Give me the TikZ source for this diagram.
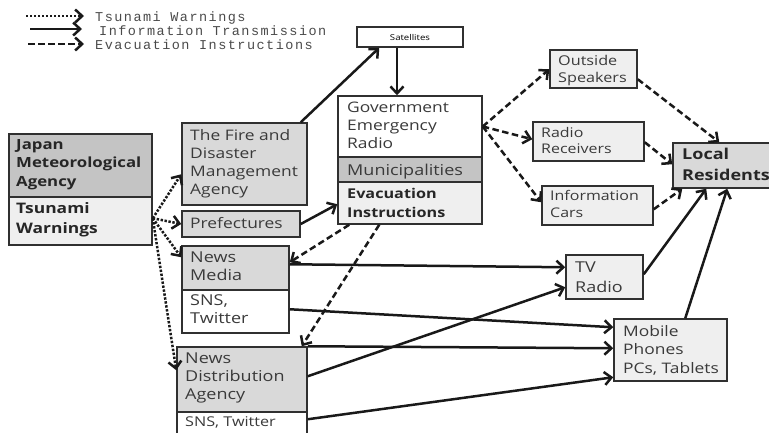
\documentclass[tikz,border=0pt]{standalone}
\usepackage{fontspec}
\setmainfont{Open Sans}[FakeStretch=1.2]
\newfontfamily\legfont{Liberation Mono}[LetterSpace=11]
\usetikzlibrary{arrows.meta,fit}
\definecolor{bord}{HTML}{303030}
\definecolor{txtc}{HTML}{3A3A3A}
\definecolor{dgray}{HTML}{C4C4C4}
\definecolor{mgray}{HTML}{D9D9D9}
\definecolor{lgray}{HTML}{EFEFEF}
\definecolor{leg}{HTML}{4A4A4A}
\newcommand{\st}{\rule{0pt}{12pt}}
\newcommand{\fs}[2]{\fontsize{#1}{#2}\selectfont}
\begin{document}
\begin{tikzpicture}[x=1pt,y=-1pt,
  box/.style={draw=bord, line width=1.5pt, inner sep=0pt},
  lbl/.style={anchor=north west, inner sep=0pt, align=left, text=txtc, font=\fs{14.5}{18.5}},
  blbl/.style={lbl, text=black!85, font=\fs{14}{18.5}\bfseries},
  info/.style={line width=2.5pt, black!90, -{Straight Barb[length=7pt,width=13pt]}},
  evac/.style={info, dash pattern=on 6.5pt off 3.5pt},
  warn/.style={info, dash pattern=on 2.4pt off 1.6pt},
  legtxt/.style={anchor=base west, inner sep=0pt, text=leg, font=\legfont\fs{13.5}{14}}]
\useasboundingbox (0,0) rectangle (769,432);
% legend
\coordinate (l1a) at (26,16); \coordinate (l1b) at (84,16);
\coordinate (l2a) at (30,29); \coordinate (l2b) at (82,29);
\coordinate (l3a) at (28,44); \coordinate (l3b) at (84,44);
\draw[warn] (l1a) -- (l1b);
\draw[info] (l2a) -- (l2b);
\draw[evac] (l3a) -- (l3b);
\node[legtxt] (lt1) at (95,21) {Tsunami Warnings};
\node[legtxt] (lt2) at (99,35) {Information Transmission};
\node[legtxt] (lt3) at (95,49) {Evacuation Instructions};
% boxes
\node[box, fill=dgray, fit={(9,134) (152,197)}] (jmaA) {};
\node[box, fill=lgray, fit={(9,197) (152,245)}] (jmaB) {};
\node[box, fill=mgray, fit={(182,123) (307,205)}] (fire) {};
\node[box, fill=mgray, fit={(182,211) (300,237)}] (pref) {};
\node[box, fill=mgray, fit={(182,246) (289,290)}] (nmA) {};
\node[box, fill=white, fit={(182,290) (289,333)}] (nmB) {};
\node[box, fill=mgray, fit={(177,347) (307,412)}] (ndaA) {};
\node[box, fill=white, fit={(177,412) (307,440)}] (ndaB) {};
\node[box, fill=white, fit={(357,27) (463,47)}] (sat) {};
\node[box, fill=white, fit={(338,96) (482,157)}] (govA) {};
\node[box, fill=dgray, fit={(338,157) (482,182)}] (govB) {};
\node[box, fill=lgray, fit={(338,182) (482,224)}] (govC) {};
\node[box, fill=lgray, fit={(550,50) (637,88)}] (out) {};
\node[box, fill=lgray, fit={(533,122) (644,161)}] (rad) {};
\node[box, fill=lgray, fit={(542,186) (653,225)}] (car) {};
\node[box, fill=mgray, fit={(673,143) (772,188)}] (loc) {};
\node[box, fill=lgray, fit={(566,255) (643,299)}] (tv) {};
\node[box, fill=lgray, fit={(614,319) (727,381)}] (mob) {};
% texts
\node[blbl] (tjma) at (16,137) {\st Japan\\Meteorological\\Agency};
\node[blbl, font=\fs{14.5}{20}\bfseries] (ttw) at (16,201) {\st Tsunami\\Warnings};
\node[lbl, font=\fs{14.5}{18}] (tfire) at (190,128) {\st The Fire and\\Disaster\\Management\\Agency};
\node[lbl] (tpref) at (190,216) {\st Prefectures};
\node[lbl, font=\fs{15}{18}] (tnm) at (190,250) {\st News\\Media};
\node[lbl, font=\fs{15}{18}] (tsns1) at (190,293) {\st SNS,\\Twitter};
\node[lbl, font=\fs{15}{18}] (tnda) at (185,351) {\st News\\Distribution\\Agency};
\node[lbl, font=\fs{13.5}{14}] (tsns2) at (185,414) {\st SNS, Twitter};
\node[inner sep=0pt, font=\fs{8}{9}] (tsat) at (sat.center) {Satellites};
\node[lbl, font=\fs{14.5}{18}] (tgov) at (347,100) {\st Government\\Emergency\\Radio};
\node[lbl, font=\fs{15}{18}] (tmun) at (347,163) {\st Municipalities};
\node[blbl, font=\fs{13.5}{19}\bfseries] (tevi) at (347,186) {\st Evacuation\\Instructions};
\node[lbl, font=\fs{13.5}{17}] (tout) at (558,53) {\st Outside\\Speakers};
\node[lbl, font=\fs{13.3}{16}] (trad) at (541,125) {\st Radio\\Receivers};
\node[lbl, font=\fs{13.3}{17}] (tcar) at (550,188) {\st Information\\Cars};
\node[blbl, font=\fs{15}{21}\bfseries] (tloc) at (682,147) {\st Local\\Residents};
\node[lbl, font=\fs{15}{20}] (ttv) at (575,260) {\st TV\\Radio};
\node[lbl, font=\fs{14.5}{18.5}] (tmob) at (623,324) {\st Mobile\\Phones\\PCs, Tablets};
% tsunami warnings (dotted)
\coordinate (J) at ([yshift=-22pt]jmaB.north east);
\draw[warn] (J) -- ([yshift=-52pt]fire.north west);
\draw[warn] (J) -- (pref.west);
\draw[warn] (J) -- ([yshift=-12pt]nmA.north west);
\draw[warn] (J) -- ([yshift=-24pt]ndaA.north west);
% information transmission (solid)
\draw[info] ([xshift=-7pt]fire.north east) -- ([xshift=23pt]sat.south west);
\draw[info] ([xshift=-13pt]sat.south) -- ([xshift=-13pt]govA.north);
\draw[info] (pref.east) -- ([yshift=-23pt]govC.north west);
\draw[info] ([yshift=-19pt]nmA.north east) -- ([yshift=-13pt]tv.north west);
\draw[info] ([yshift=-20pt]nmB.north east) -- ([yshift=-9pt]mob.north west);
\draw[info] (ndaA.north east) -- ([yshift=-30pt]mob.north west);
\draw[info] ([yshift=-30pt]ndaA.north east) -- ([yshift=-33pt]tv.north west);
\draw[info] ([yshift=-8pt]ndaB.north east) -- ([yshift=-59pt]mob.north west);
\draw[info] ([yshift=-20pt]tv.north east) -- ([xshift=34pt]loc.south west);
\draw[info] ([xshift=72pt]mob.north west) -- ([xshift=55pt]loc.south west);
% evacuation instructions (dashed)
\draw[evac] (govA.east) -- ([yshift=-20pt]out.north west);
\draw[evac] (govA.east) -- ([yshift=-18pt]rad.north west);
\draw[evac] (govA.east) -- ([yshift=-17pt]car.north west);
\draw[evac] ([yshift=-30pt]out.north east) -- ([xshift=47pt]loc.north west);
\draw[evac] ([yshift=-21pt]rad.north east) -- ([yshift=-22pt]loc.north west);
\draw[evac] ([yshift=-24pt]car.north east) -- ([xshift=10pt]loc.south west);
\draw[evac] ([xshift=12pt]govC.south west) -- ([yshift=-17pt]nmA.north east);
\draw[evac] ([xshift=42pt]govC.south west) -- ([xshift=-6pt]ndaA.north east);
\end{tikzpicture}
\end{document}
